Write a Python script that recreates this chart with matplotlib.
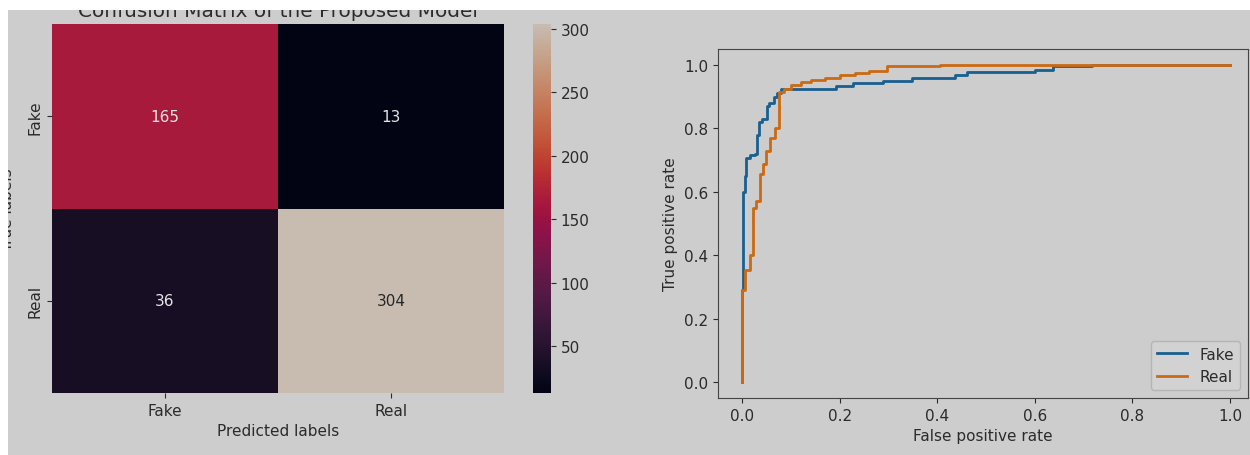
import numpy as np
import matplotlib
matplotlib.use('Agg')
import matplotlib.pyplot as plt
from matplotlib.colors import ListedColormap
from matplotlib.patches import Rectangle
import seaborn as sns

class_names = ['Fake', 'Real']
conf_matrix = [[165, 13],
               [36, 304]]
cbar_ticks = [50, 100, 150, 200, 250, 300]

# roc points (fpr, tpr), drawn as steps
fake_fpr = [0.0, 0.0, 0.001, 0.005, 0.008, 0.015, 0.025, 0.029, 0.035, 0.04, 0.05, 0.055,
            0.065, 0.072, 0.08, 0.193, 0.227, 0.289, 0.347, 0.436, 0.46, 0.60, 0.638, 0.717, 1.0]
fake_tpr = [0.0, 0.29, 0.60, 0.65, 0.705, 0.715, 0.72, 0.78, 0.82, 0.83, 0.87, 0.88,
            0.90, 0.91, 0.925, 0.932, 0.942, 0.948, 0.958, 0.968, 0.976, 0.984, 0.995, 1.0, 1.0]
real_fpr = [0.0, 0.0, 0.005, 0.015, 0.022, 0.027, 0.036, 0.042, 0.049, 0.056, 0.066, 0.075,
            0.085, 0.10, 0.12, 0.14, 0.17, 0.20, 0.23, 0.26, 0.296, 0.405, 1.0]
real_tpr = [0.0, 0.29, 0.355, 0.40, 0.55, 0.57, 0.655, 0.687, 0.73, 0.77, 0.80, 0.913,
            0.925, 0.935, 0.945, 0.952, 0.96, 0.968, 0.975, 0.982, 0.995, 1.0, 1.0]

bg = '#cdcdcd'
txt = '#2b2b2b'
fs = 11
plt.rcParams['font.family'] = ['DejaVu Sans']
plt.rcParams['text.color'] = txt
plt.rcParams['axes.labelcolor'] = txt
plt.rcParams['xtick.color'] = txt
plt.rcParams['ytick.color'] = txt

# the screenshot is a dimmed copy, so dim the colormap too
rocket = sns.color_palette('rocket', as_cmap=True)
dim_rocket = ListedColormap(rocket(np.linspace(0, 1, 256))[:, :3] * 0.8)

fig = plt.figure(figsize=(12.5, 4.56), dpi=100, facecolor=bg)
ax1 = fig.add_axes([52 / 1250, 1 - 394 / 456, 452 / 1250, 369 / 456])
cax = fig.add_axes([533 / 1250, 1 - 394 / 456, 18 / 1250, 369 / 456])
ax2 = fig.add_axes([718 / 1250, 1 - 399 / 456, 530 / 1250, 349 / 456])

sns.heatmap(np.array(conf_matrix), annot=True, fmt='d', cmap=dim_rocket, ax=ax1, cbar_ax=cax,
            xticklabels=class_names, yticklabels=class_names, annot_kws={'fontsize': fs})
ax1.set_title('Confusion Matrix of the Proposed Model', fontsize=14.4, pad=6)
ax1.set_xlabel('Predicted labels', fontsize=fs)
ax1.set_ylabel('True labels', fontsize=fs, labelpad=8.5)
ax1.tick_params(labelsize=fs)
plt.setp(ax1.get_yticklabels(), rotation=90, va='center')
for t in ax1.texts:
    if t.get_color() == 'w':
        t.set_color('#e6e6e6')
cax.set_yticks(cbar_ticks)
cax.tick_params(labelsize=fs)

ax2.set_facecolor(bg)
ax2.plot(fake_fpr, fake_tpr, drawstyle='steps-post', color='#195f90', lw=2, label='Fake')
ax2.plot(real_fpr, real_tpr, drawstyle='steps-post', color='#cc6a12', lw=2, label='Real')
ax2.set_xlim(-0.05, 1.037)
ax2.set_xlabel('False positive rate', fontsize=fs)
ax2.set_ylabel('True positive rate', fontsize=fs)
ax2.tick_params(labelsize=fs)
for s in ax2.spines.values():
    s.set_color('#444444')
ax2.legend(loc='lower right', fontsize=fs, facecolor='#d2d2d2', edgecolor='#b5b5b5',
           framealpha=1)

# white margins of the screenshot cover the title top and the y label
fig.add_artist(Rectangle((0, 1 - 11 / 456), 1, 11 / 456, transform=fig.transFigure,
                         facecolor='white', edgecolor='none', zorder=10))
fig.add_artist(Rectangle((0, 0), 8 / 1250, 1, transform=fig.transFigure,
                         facecolor='white', edgecolor='none', zorder=10))

fig.savefig('out.png', dpi=100, facecolor=bg)
